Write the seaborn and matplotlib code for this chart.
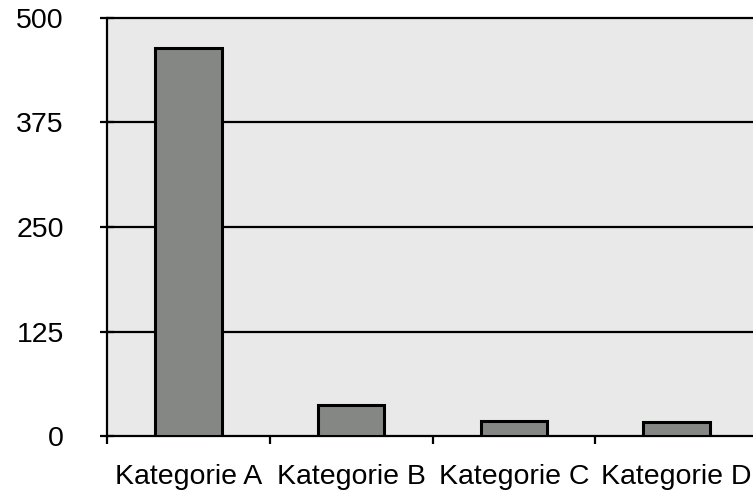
import matplotlib
matplotlib.use("Agg")
import matplotlib.pyplot as plt
import seaborn as sns
import pandas as pd

categories = ["Kategorie A", "Kategorie B", "Kategorie C", "Kategorie D"]
values = [464, 37, 18, 17]
y_ticks = [0, 125, 250, 375, 500]

sns.set_theme(style="white")
plt.rcParams["font.family"] = ["Liberation Sans", "DejaVu Sans"]

df = pd.DataFrame({"Kategorie": categories, "Wert": values})

fig = plt.figure(figsize=(7.53, 4.90), dpi=100)
ax = fig.add_axes([107 / 753, 54 / 490, 651 / 753, 418 / 490])
ax.set_facecolor("#e9e9e9")

sns.barplot(data=df, x="Kategorie", y="Wert", ax=ax, width=0.41,
            color="#858785", saturation=1, edgecolor="black", linewidth=2.2,
            zorder=3)

ax.set_xlim(-0.5, len(categories) - 0.5)
ax.set_ylim(0, 500)
ax.set_yticks(y_ticks)
ax.set_yticklabels([str(v) for v in y_ticks])
for v in y_ticks[1:]:
    ax.axhline(v, color="black", lw=1.6, zorder=2, clip_on=False)

ax.set_xlabel("")
ax.set_ylabel("")

for side in ("top", "right"):
    ax.spines[side].set_visible(False)
for side in ("left", "bottom"):
    ax.spines[side].set_color("black")
    ax.spines[side].set_linewidth(1.6)

ax.tick_params(axis="y", which="major", direction="inout", length=10, width=1.6,
               color="black", pad=26, labelsize=20.5, labelcolor="black", left=True)
ax.tick_params(axis="x", which="major", length=0, pad=20.5, labelsize=20.5,
               labelcolor="black")
ax.set_xticks([i + 0.5 for i in range(-1, len(categories))], minor=True)
ax.tick_params(axis="x", which="minor", direction="out", length=6, width=1.6,
               color="black", bottom=True)

fig.savefig("out.png", dpi=100)
